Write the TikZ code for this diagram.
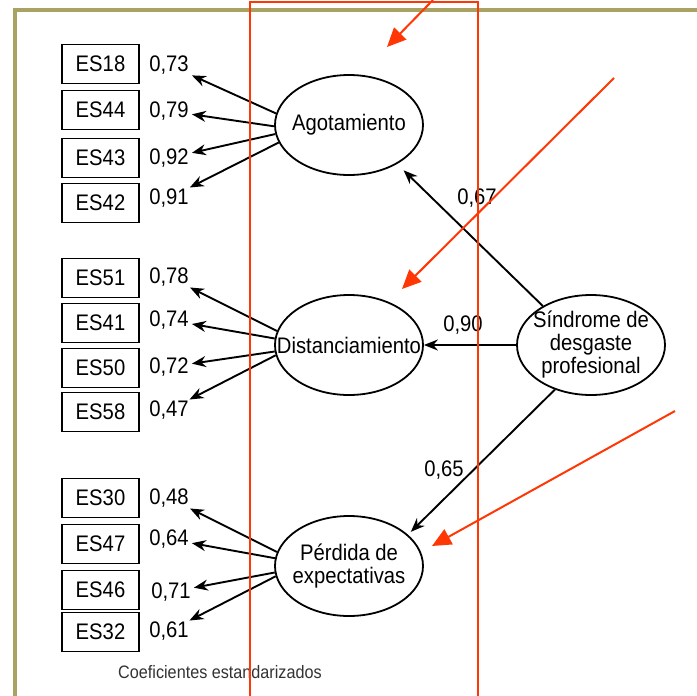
\documentclass[tikz,border=0pt]{standalone}
\usepackage{fontspec}
\setmainfont{Liberation Sans}[FakeStretch=0.9]
\usetikzlibrary{arrows.meta,shapes.geometric}
\definecolor{frameolive}{RGB}{168,163,98}
\definecolor{markred}{RGB}{255,55,5}
\tikzset{
	item/.style={draw, line width=1.8pt, minimum width=77pt, minimum height=39pt, inner sep=0pt},
	factor/.style={draw, ellipse, line width=1.8pt, minimum width=148pt, minimum height=100pt, inner xsep=-20pt, inner ysep=0pt, align=center},
	coef/.style={inner xsep=3pt, inner ysep=1pt},
	load/.style={line width=1.9pt, -{Stealth[length=14pt,width=11pt]}},
	redarrow/.style={color=markred, line width=2pt, -{Triangle[length=19pt,width=17pt]}},
}

\begin{document}
\begin{tikzpicture}[x=1pt, y=-1pt, font=\fontsize{22.5pt}{23pt}\selectfont]
		%%%%% START %%%%%
		\useasboundingbox (0, 0) rectangle (697, 696);
		\fill[white] (0, 0) rectangle (697, 696);
		
		\draw[line width=3.5pt, color=frameolive] (15, 700) -- (15, 10) -- (700, 10);
		
		% factors
		\node[factor] (ag) at (349, 125) {Agotamiento};
		\node[factor] (dis) at (349, 345) {Distanciamiento};
		\node[factor] (per) at (349, 566) {P\'erdida de\\expectativas};
		\node[factor] (sin) at (591, 345) {S\'indrome de\\desgaste\\profesional};
		
		% items
		\node[item] (es18) at (100.5, 64) {ES18};
		\node[item] (es44) at (100.5, 110) {ES44};
		\node[item] (es43) at (100.5, 158) {ES43};
		\node[item] (es42) at (100.5, 203) {ES42};
		
		\node[item] (es51) at (100.5, 278) {ES51};
		\node[item] (es41) at (100.5, 323) {ES41};
		\node[item] (es50) at (100.5, 368) {ES50};
		\node[item] (es58) at (100.5, 412) {ES58};
		
		\node[item] (es30) at (100.5, 498) {ES30};
		\node[item] (es47) at (100.5, 544) {ES47};
		\node[item] (es46) at (100.5, 590) {ES46};
		\node[item] (es32) at (100.5, 632) {ES32};
		
		% loadings
		\node[coef] (c18) at (169, 65) {0,73};
		\node[coef] (c44) at (169, 111) {0,79};
		\node[coef] (c43) at (169, 158) {0,92};
		\node[coef] (c42) at (169, 198) {0,91};
		\draw[load] (ag.171) -- (c18);
		\draw[load] (ag.181) -- (c44);
		\draw[load] (ag.187) -- (c43);
		\draw[load] (ag.194) -- (c42);
		
		\node[coef] (c51) at (169, 277) {0,78};
		\node[coef] (c41) at (169, 320) {0,74};
		\node[coef] (c50) at (169, 367) {0,72};
		\node[coef] (c58) at (169, 410) {0,47};
		\draw[load] (dis.169) -- (c51);
		\draw[load] (dis.175) -- (c41);
		\draw[load] (dis.185) -- (c50);
		\draw[load] (dis.188) -- (c58);
		
		\node[coef] (c30) at (169, 498) {0,48};
		\node[coef] (c47) at (169, 539) {0,64};
		\node[coef] (c46) at (171, 592) {0,71};
		\node[coef] (c32) at (169, 631) {0,61};
		\draw[load] (per.169) -- (c30);
		\draw[load] (per.174) -- (c47);
		\draw[load] (per.185) -- (c46);
		\draw[load] (per.188) -- (c32);
		
		% second order
		\draw[load, shorten >=9pt] (sin.141) -- (ag.-39);
		\draw[load] (sin.west) -- (dis.east);
		\draw[load, shorten >=4pt] (sin.231) -- (per.28);
		\node (k67) at (477, 198) {0,67};
		\node (k90) at (463, 325) {0,90};
		\node (k65) at (444, 470) {0,65};
		
		\node[font=\fontsize{18pt}{20pt}\selectfont, color=black!80] (note) at (220, 672) {Coeficientes estandarizados};
		
		% red marks
		\draw[color=markred, line width=1.8pt] (250, 700) -- (250, 2) -- (478, 2) -- (478, 700);
		\coordinate (r1) at (433, 0);
		\coordinate (r1t) at (387, 47);
		\coordinate (r2) at (614, 78);
		\coordinate (r2t) at (402, 289);
		\coordinate (r3) at (675, 411);
		\coordinate (r3t) at (432, 546);
		\draw[redarrow] (r1) -- (r1t);
		\draw[redarrow] (r2) -- (r2t);
		\draw[redarrow] (r3) -- (r3t);
		
		%%%%% END %%%%%
\end{tikzpicture}
\end{document}
